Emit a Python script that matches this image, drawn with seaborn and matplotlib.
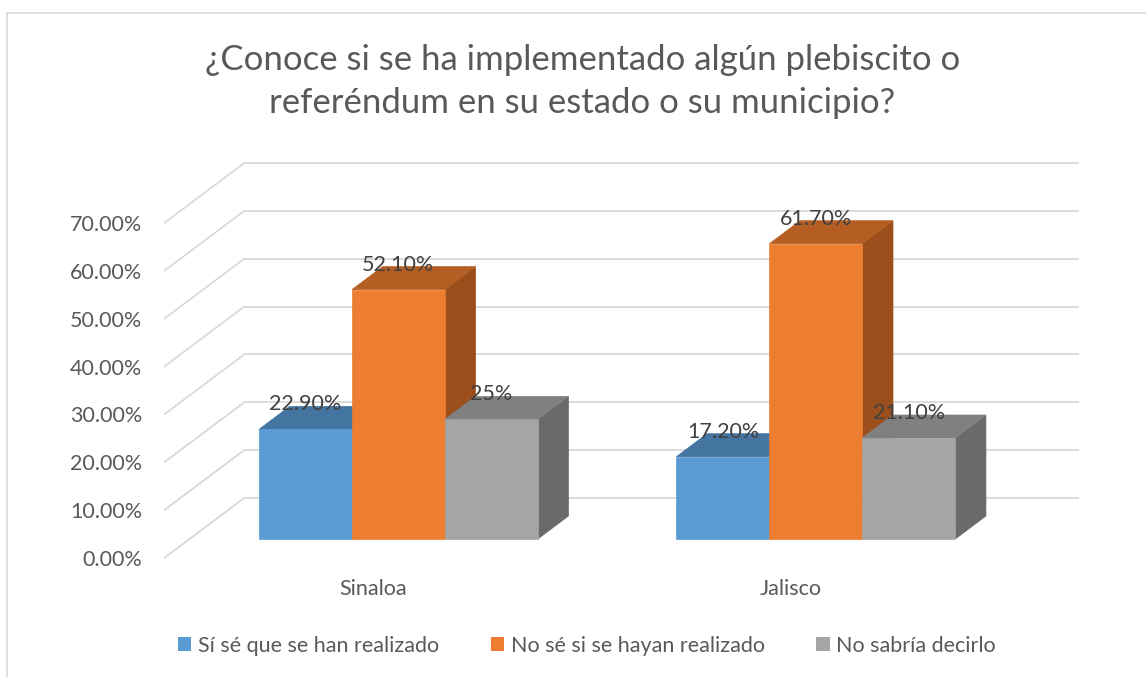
import numpy as np
import pandas as pd
import matplotlib
matplotlib.use("Agg")
import matplotlib.pyplot as plt
import seaborn as sns
from matplotlib.patches import Polygon, Rectangle, Patch

# ---------------- data ----------------
estados = ["Sinaloa", "Jalisco"]
respuestas = ["Sí sé que se han realizado", "No sé si se hayan realizado", "No sabría decirlo"]
si_se = [22.9, 17.2]
no_se = [52.1, 61.7]
no_sabria = [25.0, 21.1]
etiquetas = [["22.90%", "17.20%"], ["52.10%", "61.70%"], ["25%", "21.10%"]]
yticks = [0, 10, 20, 30, 40, 50, 60, 70]
ytick_labels = ["0.00%", "10.00%", "20.00%", "30.00%", "40.00%", "50.00%", "60.00%", "70.00%"]
titulo = "¿Conoce si se ha implementado algún plebiscito o\nreferéndum en su estado o su municipio?"

front_colors = ["#5B9BD5", "#ED7D31", "#A5A5A5"]
top_colors = ["#4474A0", "#B45E23", "#808080"]
side_colors = ["#3C6690", "#9A4F1C", "#6A6A6A"]

df = pd.DataFrame({
    "estado": estados * 3,
    "respuesta": [respuestas[0]] * 2 + [respuestas[1]] * 2 + [respuestas[2]] * 2,
    "valor": si_se + no_se + no_sabria,
})

# ---------------- style ----------------
sns.set_theme(style="white")
plt.rcParams["font.family"] = ["Lato", "DejaVu Sans"]
TXT = "#595959"
GRID = "#D9D9D9"
FS = 15.5

W, H = 1146, 677
fig = plt.figure(figsize=(W / 100, H / 100), dpi=100)
fig.patch.set_facecolor("white")

# front plane of the floor
ax = fig.add_axes([164.25 / W, (H - 558) / H, 835 / W, 335 / H])
ax.set_facecolor("none")

sns.barplot(data=df, x="estado", y="valor", hue="respuesta", order=estados,
            hue_order=respuestas, palette=front_colors, saturation=1,
            width=0.668, errorbar=None, legend=False, ax=ax,
            linewidth=0)

ax.set_xlim(-0.5, 1.5)
ax.set_ylim(0, 70)
ax.autoscale(False)

# pixel -> data conversion
p0 = ax.transData.transform((0, 0))
p1 = ax.transData.transform((1, 10))
sx = p1[0] - p0[0]
sy = (p1[1] - p0[1]) / 10.0

def px(dx, dy):
    return dx / sx, dy / sy

BAR_FRONT = px(25.4, 19.0)
BAR_BACK = px(56.0, 42.0)
WALL = px(80.0, 60.0)

# walls / gridlines
x0, x1 = ax.get_xlim()
for y in yticks:
    ax.plot([x0, x0 + WALL[0]], [y, y + WALL[1]], color=GRID, lw=1.3,
            clip_on=False, zorder=0.5, solid_capstyle="butt")
    ax.plot([x0 + WALL[0], x1 + WALL[0]], [y + WALL[1], y + WALL[1]], color=GRID,
            lw=1.3, clip_on=False, zorder=0.5, solid_capstyle="butt")

# 3D bars
ddx = BAR_BACK[0] - BAR_FRONT[0]
ddy = BAR_BACK[1] - BAR_FRONT[1]
bars = []
for h, cont in enumerate(ax.containers):
    for c, bar in enumerate(cont):
        bars.append((bar.get_x(), h, c, bar))
bars.sort(key=lambda t: t[0])
for k, (_, h, c, bar) in enumerate(bars):
    bar.set_x(bar.get_x() + BAR_FRONT[0])
    bar.set_y(bar.get_y() + BAR_FRONT[1])
    bx0 = bar.get_x()
    bx1 = bx0 + bar.get_width()
    by0 = bar.get_y()
    by1 = by0 + bar.get_height()
    z = 2 + k * 0.1
    side = Polygon([(bx1, by0), (bx1 + ddx, by0 + ddy), (bx1 + ddx, by1 + ddy), (bx1, by1)],
                   closed=True, fc=side_colors[h], ec=side_colors[h], lw=0.5,
                   zorder=z, clip_on=False)
    top = Polygon([(bx0, by1), (bx1, by1), (bx1 + ddx, by1 + ddy), (bx0 + ddx, by1 + ddy)],
                  closed=True, fc=top_colors[h], ec=top_colors[h], lw=0.5,
                  zorder=z + 0.01, clip_on=False)
    ax.add_patch(side)
    ax.add_patch(top)
    bar.set_zorder(z + 0.05)
    bar.set_edgecolor(front_colors[h])
    bar.set_linewidth(0.5)
    bar.set_clip_on(False)
    ax.annotate(etiquetas[h][c], xy=(bx0 + bar.get_width() / 2, by1), xytext=(0, 25),
                textcoords="offset pixels", ha="center", va="center",
                fontsize=FS, color="#404040", zorder=10, annotation_clip=False)

# axes cosmetics
for s in ax.spines.values():
    s.set_visible(False)
ax.set_yticks(yticks, ytick_labels)
ax.set_xticks([0, 1], estados)
ax.tick_params(axis="y", length=0, pad=15.8, labelsize=FS, labelcolor=TXT)
ax.tick_params(axis="x", length=0, pad=15, labelsize=FS, labelcolor=TXT)
ax.set_xlabel("")
ax.set_ylabel("")
ax.grid(False)

# title
fig.text(582.5 / W, (H - 81.5) / H, titulo, ha="center", va="center",
         fontsize=25, color=TXT, linespacing=1.45)

# legend
handles = [Patch(facecolor=c, edgecolor="none") for c in front_colors]
fig.legend(handles=handles, labels=respuestas, ncol=3, loc="center",
           bbox_to_anchor=(587 / W, (H - 646) / H), frameon=False,
           handlelength=0.63, handleheight=0.63, handletextpad=0.3,
           columnspacing=2.4, fontsize=FS, labelcolor=TXT)

# chart frame
fig.patches.append(Rectangle((7 / W, -0.2), 1.5, (H - 13) / H + 0.2,
                             transform=fig.transFigure, fill=False,
                             ec=GRID, lw=1.2, zorder=0))

fig.savefig("out.png", dpi=100, facecolor="white")
